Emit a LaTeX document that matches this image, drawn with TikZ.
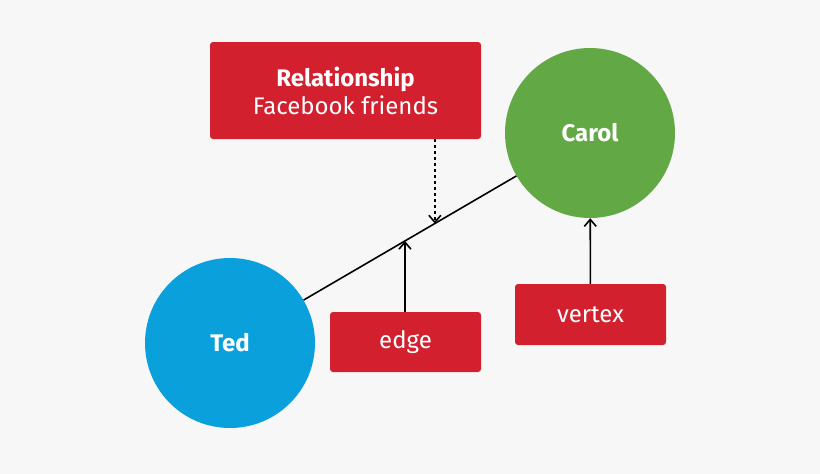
\documentclass[tikz,border=0pt]{standalone}
\usepackage{fontspec}
\setmainfont{Fira Sans}
\usetikzlibrary{positioning, calc, arrows.meta}

\definecolor{boxred}{HTML}{D2202F}
\definecolor{carolgreen}{HTML}{62A945}
\definecolor{tedblue}{HTML}{0AA0DC}
\definecolor{backgray}{HTML}{F7F7F7}

\tikzset{
    vertexnode/.style={circle, minimum size=170pt, inner sep=0pt, text=white, font=\fontsize{24}{28}\selectfont\bfseries},
    labelbox/.style={fill=boxred, rounded corners=3pt, text=white, font=\fontsize{24}{28}\selectfont, align=center, inner sep=0pt},
    pointer/.style={line width=1.6pt, -{Straight Barb[length=7pt, width=12pt]}}
}

\begin{document}
\begin{tikzpicture}[x=1pt, y=-1pt]
        \fill[backgray] (0, 0) rectangle (820, 474);

        \node[vertexnode, fill=tedblue] (ted) at (230, 343) {Ted};
        \node[vertexnode, fill=carolgreen] (carol) at (590, 133) {Carol};

        \node[labelbox, minimum width=271pt, minimum height=97pt] (rel) at (345.5, 90.5) {\textbf{Relationship}\\Facebook friends};
        \node[labelbox, minimum width=151pt, minimum height=60pt] (edge) at (405.5, 342) {edge};
        \node[labelbox, minimum width=151pt, minimum height=61pt] (vertex) at (590.5, 314.5) {vertex};

        \draw[line width=1.6pt] (ted) -- (carol);

        % points on the edge
        \coordinate (relpt) at ($(ted)!0.569!(carol)$);
        \coordinate (edgept) at ($(ted)!0.486!(carol)$);

        \draw[pointer, dashed] (rel.south -| relpt) -- (relpt);
        \draw[pointer] (edge.north -| edgept) -- (edgept);
        \draw[pointer] (vertex) -- (carol);
    \end{tikzpicture}
\end{document}
